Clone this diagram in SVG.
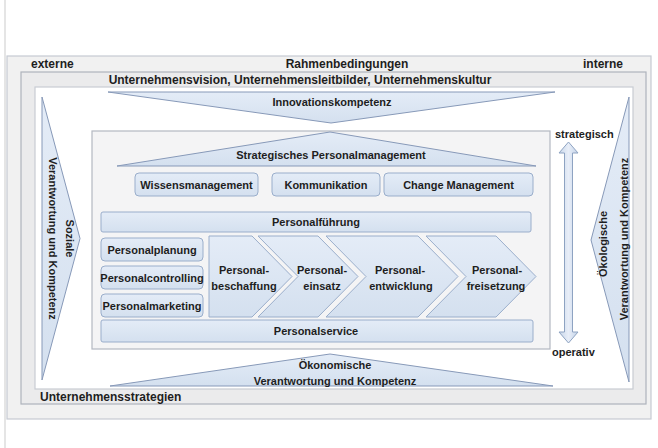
<svg xmlns="http://www.w3.org/2000/svg" width="658" height="448" viewBox="0 0 658 448">
  <defs>
    <linearGradient id="blue" x1="0" y1="0" x2="0" y2="1">
      <stop offset="0" stop-color="#e4ecf7"/>
      <stop offset="1" stop-color="#d4e0ef"/>
    </linearGradient>
    <linearGradient id="arrowGrad" x1="0" y1="0" x2="1" y2="0">
      <stop offset="0" stop-color="#c9d7ea"/>
      <stop offset="0.5" stop-color="#e8eef8"/>
      <stop offset="1" stop-color="#c3d2e8"/>
    </linearGradient>
  </defs>
  <style>
    text { font-family: "Liberation Sans", Arial, sans-serif; font-weight: bold; fill: #1e1e1e; }
    .big { font-size: 12px; }
    .lbl { font-size: 11px; }
    .mid { text-anchor: middle; }
    .shape { fill: url(#blue); stroke: #9aaecb; stroke-width: 1; }
    .tri { fill: url(#blue); stroke: #8799b8; stroke-width: 1; }
    .frame { stroke-width: 1.2; }
  </style>

  <rect x="0" y="0" width="658" height="448" fill="#ffffff"/>
  <line x1="5" y1="0" x2="5" y2="448" stroke="#d4d4d4" stroke-width="1.2"/>

  <g id="rahmenbedingungen">
    <rect class="frame" x="7" y="56" width="644" height="363" fill="#f1f1f1" stroke="#c6cad2"/>
    <text class="big" x="31" y="67.5">externe</text>
    <text class="big mid" x="347" y="67.5">Rahmenbedingungen</text>
    <text class="big" x="583" y="67.5">interne</text>
  </g>

  <g id="unternehmensvision">
    <rect class="frame" x="21" y="72" width="625" height="332" fill="#ebebec" stroke="#aeb3bc"/>
    <text class="big mid" x="300" y="83.5">Unternehmensvision, Unternehmensleitbilder, Unternehmenskultur</text>
  </g>

  <g id="unternehmensstrategien">
    <rect class="frame" x="35" y="87" width="598" height="302" fill="#ffffff" stroke="#c8ccd3"/>
    <text class="big" x="40" y="400.5">Unternehmensstrategien</text>
  </g>

  <g id="innovationskompetenz">
    <polygon class="tri" points="108,92 555,92 331,123"/>
    <text class="lbl mid" x="332" y="106">Innovationskompetenz</text>
  </g>

  <g id="soziale">
    <polygon class="tri" points="42,97 80,238.5 42,380"/>
    <text class="lbl mid" transform="translate(66,238.5) rotate(90)">Soziale</text>
    <text class="lbl mid" transform="translate(49,238.5) rotate(90)">Verantwortung und Kompetenz</text>
  </g>

  <g id="oekologische">
    <polygon class="tri" points="629,97 591,240 629,382"/>
    <text class="lbl mid" transform="translate(607,244) rotate(-90)">Ökologische</text>
    <text class="lbl mid" transform="translate(628,239) rotate(-90)">Verantwortung und Kompetenz</text>
  </g>

  <g id="oekonomische">
    <polygon class="tri" points="110,386 330,354 553,386"/>
    <text class="lbl mid" x="335" y="369">Ökonomische</text>
    <text class="lbl mid" x="335" y="385">Verantwortung und Kompetenz</text>
  </g>

  <g id="personalmanagement">
    <rect x="92" y="131" width="458" height="218" fill="#f4f4f5" stroke="#b3b8c1" stroke-width="1.2"/>
  </g>

  <g id="strategisches-personalmanagement">
    <polygon class="tri" points="117,166 330,132 536,166"/>
    <text class="lbl mid" x="331" y="159">Strategisches Personalmanagement</text>
  </g>

  <g id="wissensmanagement">
    <rect class="shape" x="135" y="173" width="123" height="23" rx="4"/>
    <text class="lbl mid" x="196.5" y="188.5">Wissensmanagement</text>
  </g>
  <g id="kommunikation">
    <rect class="shape" x="272" y="173" width="108" height="23" rx="4"/>
    <text class="lbl mid" x="326" y="188.5">Kommunikation</text>
  </g>
  <g id="change-management">
    <rect class="shape" x="384" y="173" width="149" height="23" rx="4"/>
    <text class="lbl mid" x="458.5" y="188.5">Change Management</text>
  </g>

  <g id="personalfuehrung">
    <rect class="shape" x="101" y="212" width="430" height="20" rx="2"/>
    <text class="lbl mid" x="316" y="226">Personalführung</text>
  </g>

  <g id="personalplanung">
    <rect class="shape" x="101" y="238" width="102" height="23" rx="4"/>
    <text class="lbl mid" x="152" y="253.5">Personalplanung</text>
  </g>
  <g id="personalcontrolling">
    <rect class="shape" x="101" y="266" width="102" height="23" rx="4"/>
    <text class="lbl mid" x="152" y="281.5">Personalcontrolling</text>
  </g>
  <g id="personalmarketing">
    <rect class="shape" x="101" y="294" width="102" height="23" rx="4"/>
    <text class="lbl mid" x="152" y="309.5">Personalmarketing</text>
  </g>

  <g id="personalbeschaffung">
    <polygon class="shape" points="209,236 252,236 292,276.5 252,317 209,317"/>
    <text class="lbl mid" x="244" y="274">Personal-</text>
    <text class="lbl mid" x="244" y="290">beschaffung</text>
  </g>
  <g id="personaleinsatz">
    <polygon class="shape" points="258,236 318,236 358,276.5 318,317 258,317 298,276.5"/>
    <text class="lbl mid" x="322" y="274">Personal-</text>
    <text class="lbl mid" x="322" y="290">einsatz</text>
  </g>
  <g id="personalentwicklung">
    <polygon class="shape" points="326,236 418,236 458,276.5 418,317 326,317 366,276.5"/>
    <text class="lbl mid" x="400" y="274">Personal-</text>
    <text class="lbl mid" x="401" y="290">entwicklung</text>
  </g>
  <g id="personalfreisetzung">
    <polygon class="shape" points="426,236 496,236 536,276.5 496,317 426,317 466,276.5"/>
    <text class="lbl mid" x="497" y="274">Personal-</text>
    <text class="lbl mid" x="496" y="290">freisetzung</text>
  </g>

  <g id="personalservice">
    <rect class="shape" x="101" y="320" width="432" height="22" rx="2"/>
    <text class="lbl mid" x="316" y="335">Personalservice</text>
  </g>

  <g id="strategisch-label">
    <text class="lbl" x="555" y="138">strategisch</text>
  </g>
  <g id="operativ-label">
    <text class="lbl" x="552" y="356">operativ</text>
  </g>

  <g id="connectors">
    <polygon points="568.5,142 578,153 572.5,153 572.5,332 578,332 568.5,343 559,332 564.5,332 564.5,153 559,153" fill="url(#arrowGrad)" stroke="#8ea3c2" stroke-width="1"/>
  </g>
</svg>
